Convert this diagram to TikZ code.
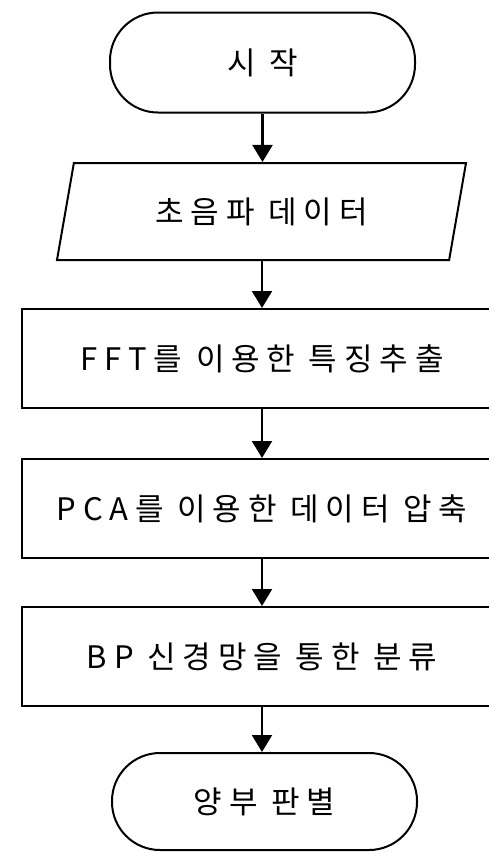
\documentclass[tikz,border=0pt]{standalone}
\usepackage{fontspec}
\newfontfamily\kr[LetterSpace=22]{Noto Sans CJK KR}
\usetikzlibrary{shapes.geometric,arrows.meta}
\tikzset{
  flow/.style={line width=2.2pt, -{Triangle[width=20pt,length=17pt]}},
  lbl/.style={font=\kr\fontsize{31}{37}\selectfont},
  term/.style={draw, line width=2pt, rounded corners=48pt, minimum width=305pt, minimum height=100pt, lbl},
  procbox/.style={draw, line width=2pt, minimum width=480pt, minimum height=99pt, lbl},
  iobox/.style={draw, line width=2pt, trapezium, trapezium left angle=59, trapezium right angle=121, trapezium stretches body, minimum width=409pt, minimum height=97pt, inner sep=0pt, lbl}
}
\begin{document}
\begin{tikzpicture}[x=1pt,y=-1pt]
\clip (0,0) rectangle (489,852);
\fill[white] (0,0) rectangle (489,852);
\node[term] (start) at (262.5,62.5) {시 작};
\node[iobox] (data) at (261.5,211.5) {초음파 데이터};
\node[procbox] (fft) at (262,358.5) {FFT를 이용한 특징추출};
\node[procbox] (pca) at (262,508.5) {PCA를 이용한 데이터 압축};
\node[procbox] (bp) at (262,656.5) {BP 신경망을 통한 분류};
\node[term, minimum height=97pt] (end) at (264.5,801.5) {양부 판별};
\draw[flow] (start.south) -- (start.south |- data.north);
\draw[flow] (data.south -| fft.north) -- (fft.north);
\draw[flow] (fft.south) -- (pca.north);
\draw[flow] (pca.south) -- (bp.north);
\draw[flow] (bp.south) -- (bp.south |- end.north);
\end{tikzpicture}
\end{document}
